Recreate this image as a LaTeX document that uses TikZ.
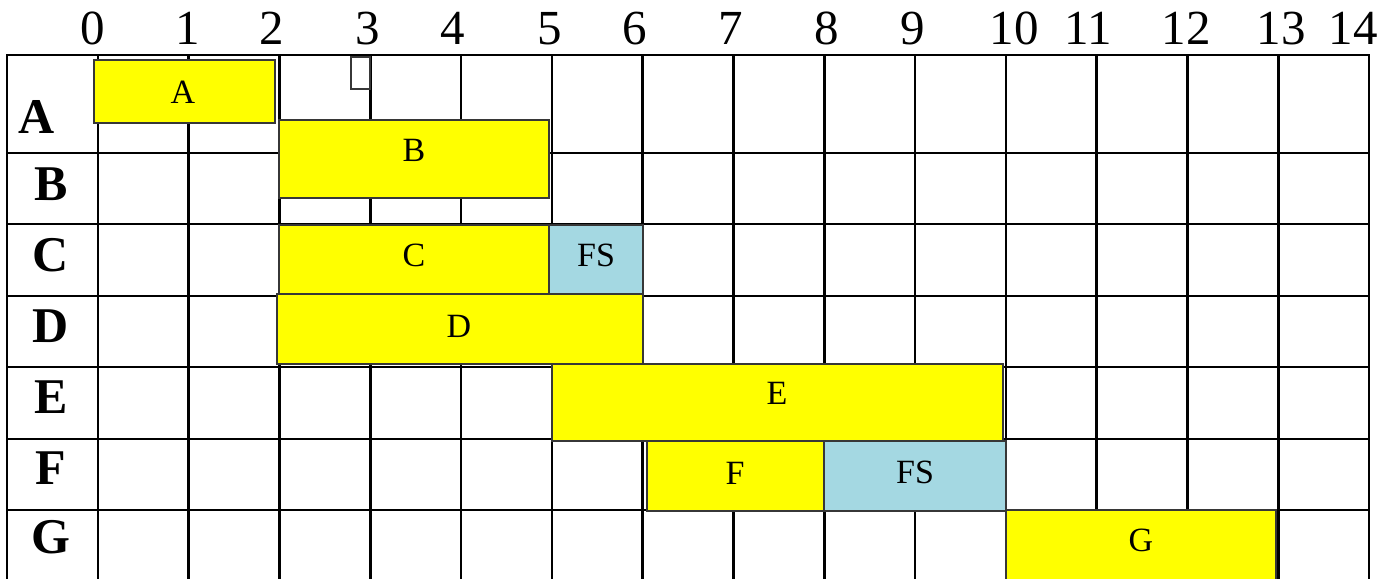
\documentclass[tikz,border=0pt]{standalone}
\usepackage{fontspec}
\setmainfont{Liberation Serif}
\definecolor{fsblue}{RGB}{164,216,226}
\definecolor{baryellow}{RGB}{255,255,0}
\definecolor{barborder}{RGB}{55,55,55}
\begin{document}
\begin{tikzpicture}[x=0.5pt,y=-0.5pt,
  gridline/.style={line width=1.3pt, black, line cap=rect},
  bar/.style={fill=baryellow, draw=barborder, line width=0.9pt},
  fsbar/.style={fill=fsblue, draw=barborder, line width=0.9pt},
  tick/.style={font=\fontsize{24.5}{28}\selectfont, anchor=base, inner sep=0pt},
  rowlab/.style={font=\fontsize{25}{30}\selectfont\bfseries, anchor=base, inner sep=0pt},
  barlab/.style={font=\fontsize{17}{20}\selectfont, anchor=base, inner sep=0pt},
  glyphbox/.style={draw=barborder, line width=0.8pt, fill=white}]
\useasboundingbox (0,0) rectangle (1391,578);
\fill[white] (0,0) rectangle (1391,578);
\clip (0,0) rectangle (1391,578);
% grid
\draw[gridline] (7,55) -- (7,590);
\foreach \i in {0,...,14} \draw[gridline] ({98+\i*90.79},55) -- ({98+\i*90.79},590);
\foreach \y in {55,153,224,296,367,439,510,582} \draw[gridline] (7,\y) -- (1369,\y);
% column numbers
\foreach \n/\x in {0/93,1/188,2/272,3/368,4/453,5/550,6/635,7/731,8/827,9/913,10/1014,11/1088,12/1186,13/1281,14/1353}
  \node[tick] (t\n) at (\x,44) {\n};
% row labels
\node[rowlab] (rA) at (37,133) {A};
\foreach \r/\yy in {B/200,C/271,D/342,E/413,F/484,G/553}
  \node[rowlab] (r\r) at (51,\yy) {\r};
% bars
\draw[bar] (94,60) rectangle (275,123);
\node[barlab] (lA) at (183,103) {A};
\draw[glyphbox] (351,57) rectangle (370,89);
\coordinate (gbox) at (360,73);
\draw[bar] (279,120) rectangle (549,198);
\node[barlab] (lB) at (414,161) {B};
\draw[bar] (279,225) rectangle (549,294);
\node[barlab] (lC) at (414,266) {C};
\draw[fsbar] (549,225) rectangle (643,294);
\node[barlab] (lFS1) at (596,266) {FS};
\draw[bar] (277,294) rectangle (643,364);
\node[barlab] (lD) at (459,337) {D};
\draw[bar] (552,364) rectangle (1003,441);
\node[barlab] (lE) at (777,404) {E};
\draw[bar] (647,441) rectangle (824,511);
\node[barlab] (lF) at (735,484) {F};
\draw[fsbar] (824,441) rectangle (1006,511);
\node[barlab] (lFS2) at (915,483) {FS};
\draw[bar] (1006,510) rectangle (1276,600);
\node[barlab] (lG) at (1141,551) {G};
\end{tikzpicture}
\end{document}
